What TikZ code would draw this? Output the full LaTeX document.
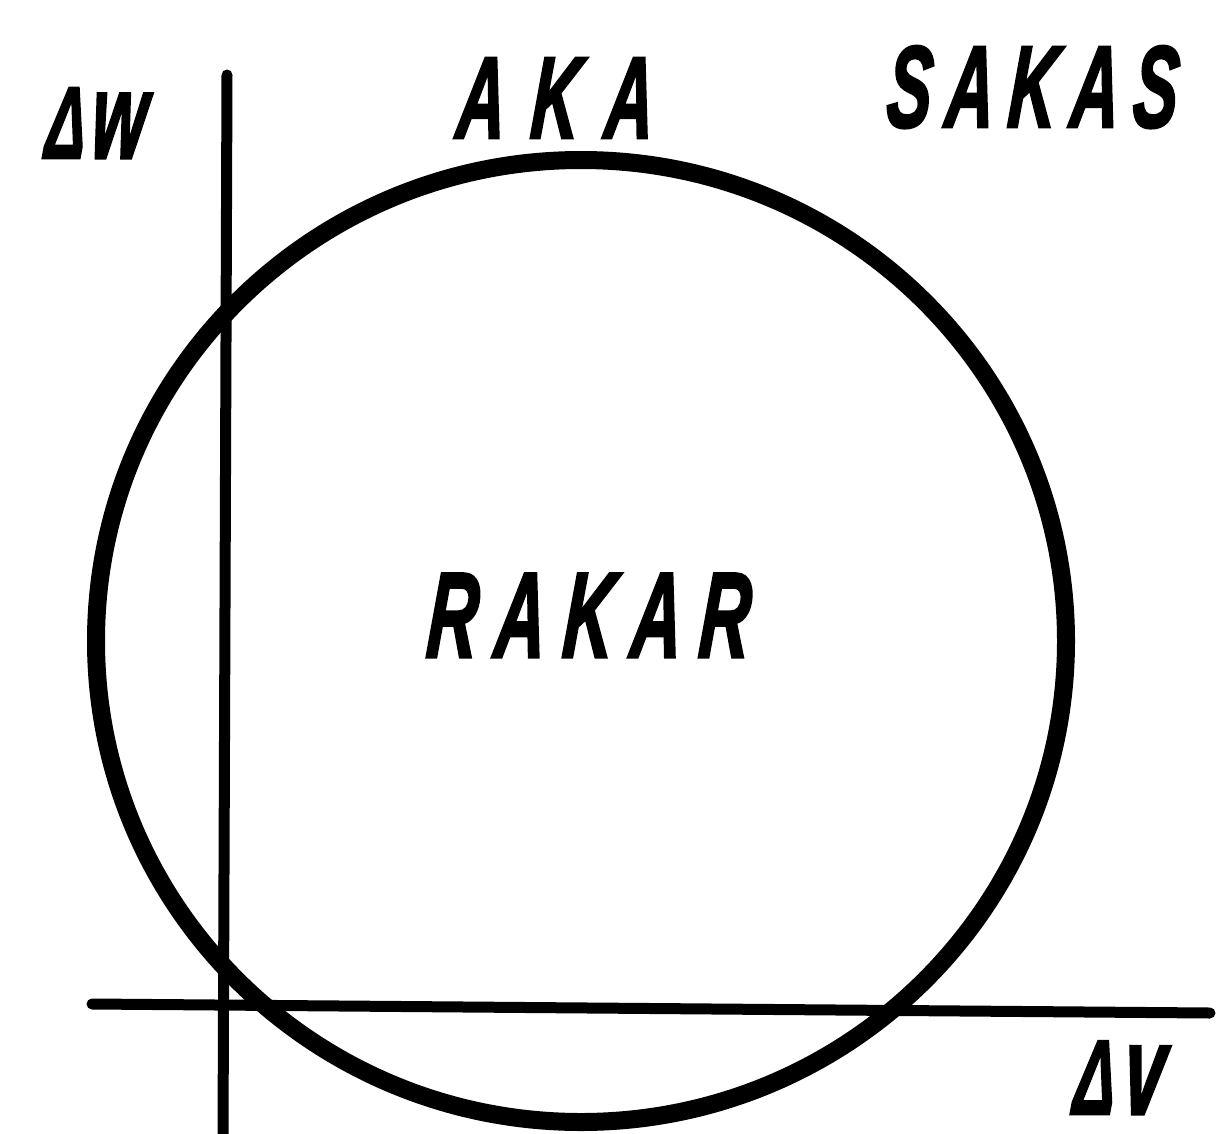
\documentclass[tikz,border=0pt]{standalone}
\usepackage{fontspec}
\setmainfont{Liberation Sans}
\newfontfamily\lblfont[FakeBold=2.5]{Liberation Sans}
\tikzset{
  lbl/.style={font=\lblfont\bfseries\itshape\fontsize{#1}{#1}\selectfont, inner sep=0pt, text depth=0pt, transform shape, xscale=0.58, xslant=0.12, anchor=base west},
  axis/.style={line width=11pt, line cap=round},
  ring/.style={line width=18pt}
}
\begin{document}
\begin{tikzpicture}[x=1pt,y=-1pt]
\useasboundingbox (0,0) rectangle (1216,1133);
\coordinate (ytop) at (227,75);
\coordinate (ybot) at (223,1140);
\coordinate (xleft) at (92,1004);
\coordinate (xright) at (1210,1013);
\coordinate (c) at (581,641);
\draw[axis] (ytop) -- (ybot);
\draw[axis] (xleft) -- (xright);
\draw[ring] (c) ellipse [x radius=485, y radius=481];
\node[lbl=102] (dw) at (44,158) {Δ\kern10pt{\fontsize{122}{122}\selectfont w}};
\node[lbl=116] (aka) at (455,138) {A\kern44pt K\kern44pt A};
\node[lbl=116] (sakas) at (885,127) {S\kern24pt A\kern24pt K\kern24pt A\kern24pt S};
\node[lbl=121] (rakar) at (425,657) {R\kern30pt A\kern30pt K\kern30pt A\kern30pt R};
\node[lbl=106] (dv) at (1072,1114) {Δ\kern14pt{\fontsize{128}{128}\selectfont v}};
\end{tikzpicture}
\end{document}
